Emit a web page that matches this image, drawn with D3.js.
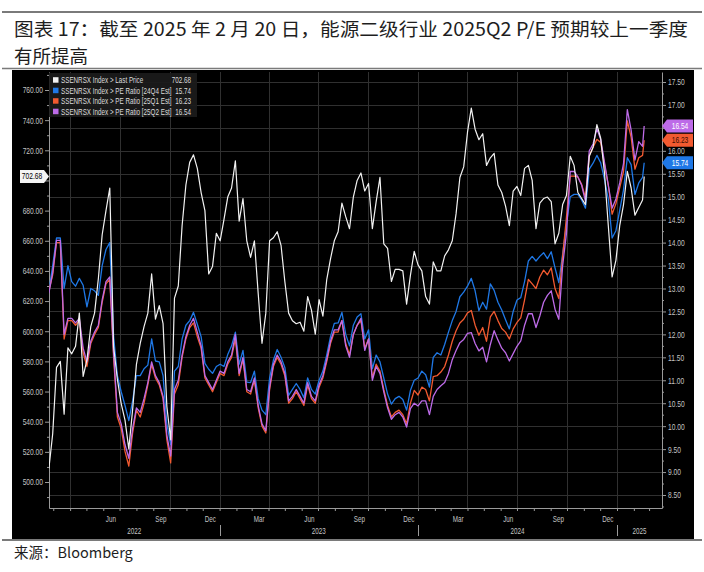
<!DOCTYPE html>
<html><head><meta charset="utf-8">
<script src="https://cdn.jsdelivr.net/npm/d3@7"></script>
<style>
html,body{margin:0;padding:0;background:#fff;}
svg{display:block;}
</style></head><body>
<svg id="chart" width="704" height="572"></svg>
<script>
// ---------------- data ----------------
const titleLines = ["图表 17：截至 2025 年 2 月 20 日，能源二级行业 2025Q2 P/E 预期较上一季度", "有所提高"];
const sourceText = "来源：Bloomberg";
const seriesNames = ["SSENRSX Index > Last Price", "SSENRSX Index > PE Ratio [24Q4 Est]", "SSENRSX Index > PE Ratio [25Q1 Est]", "SSENRSX Index > PE Ratio [25Q2 Est]"];
const lastValueLabels = ["702.68", "15.74", "16.23", "16.54"];
const seriesColors = ["#f2f2f2", "#1f78e6", "#f25a30", "#bd6be8"];
const startDate = "2022-02-21";   // weekly observations from here
const weeksCount = 157;
const lastDate = "2025-02-20";

const lastPrice = [
 509,532,576,580,545,589,585,590,612,570,
 581,603,612,635,664,680,695,590,568,552,
 541,522,548,578,592,603,612,638,608,617,
 605,550,528,622,630,670,697,712,717,708,
 692,680,638,643,665,660,674,689,695,713,
 673,688,660,649,660,625,592,612,660,662,
 666,657,633,612,607,605,606,600,623,614,
 598,621,610,634,648,660,666,685,676,668,
 689,700,705,693,698,668,686,702,658,655,
 633,641,641,640,618,637,653,644,640,623,
 618,646,640,640,650,654,660,678,702,709,
 732,748,734,727,731,710,715,718,697,692,
 683,670,693,696,690,708,710,700,668,685,
 688,689,686,658,665,684,690,716,710,692,
 688,684,716,722,737,728,705,670,636,647,
 670,684,706,695,677,682,687,702.68];

const pe24Q4 = [
 12.95,13.5,14.1,14.1,13.0,13.5,13.15,13.05,13.22,13.07,
 12.6,13.0,12.95,12.85,13.5,13.85,14.0,11.95,11.1,10.75,
 10.45,10.12,10.55,11.1,11.1,11.25,11.33,11.9,11.42,11.4,
 11.1,10.05,9.6,11.2,11.3,11.9,12.2,12.3,12.48,12.22,
 11.95,11.37,11.24,11.15,11.3,11.35,11.3,11.56,11.75,12.05,
 11.35,11.65,10.96,10.95,11.2,10.6,10.35,10.25,11.05,11.44,
 11.67,11.5,11.28,10.67,10.8,10.93,10.8,10.62,11.05,10.8,
 10.7,11.0,11.2,11.55,11.95,12.24,12.25,12.48,12.0,11.75,
 12.2,12.38,12.45,11.9,12.1,11.25,11.55,11.4,11.05,10.7,
 10.48,10.6,10.65,10.58,10.35,10.78,11.0,11.05,11.2,11.12,
 10.85,11.5,11.6,11.55,11.78,12.05,12.3,12.5,12.82,12.92,
 13.05,13.22,12.95,12.52,12.7,12.55,13.1,12.96,12.7,12.53,
 12.32,12.12,12.5,12.75,12.8,13.15,13.6,13.7,13.6,13.7,
 13.78,13.65,13.8,13.45,13.13,13.75,14.4,15.0,15.05,15.05,
 14.93,14.75,15.6,15.73,15.9,15.74,15.38,14.95,14.1,14.26,
 14.7,15.15,15.85,15.7,15.05,15.3,15.42,15.74];

const pe25Q1 = [
 12.95,13.3,14.0,14.0,11.9,12.3,12.3,12.2,12.3,11.6,
 11.3,11.8,12.0,12.15,12.7,13.1,13.2,11.5,10.2,9.95,
 9.45,9.13,9.85,10.35,10.2,10.5,10.9,11.35,11.05,10.9,
 10.6,9.7,9.2,10.7,10.9,11.5,11.9,12.15,12.25,11.95,
 11.7,11.05,10.9,10.75,10.95,11.15,11.1,11.35,11.5,11.9,
 11.1,11.45,10.75,10.7,11.0,10.4,10.0,9.85,10.8,11.3,
 11.5,11.35,11.1,10.5,10.6,10.75,10.6,10.45,10.9,10.6,
 10.5,10.85,11.05,11.4,11.8,12.05,12.05,12.3,11.8,11.55,
 12.0,12.2,12.3,11.7,11.9,11.05,11.35,11.2,10.8,10.45,
 10.2,10.3,10.35,10.25,10.05,10.5,10.78,10.68,10.85,10.8,
 10.55,11.08,11.1,11.18,11.3,11.55,11.85,12.08,12.25,12.33,
 12.47,12.52,12.2,11.98,12.15,11.85,12.38,12.5,12.3,12.13,
 12.05,11.9,12.12,12.26,12.36,12.75,13.2,13.1,13.0,13.25,
 13.4,13.3,13.45,13.0,12.78,13.7,14.55,15.45,15.45,15.43,
 15.27,14.98,15.9,16.08,16.25,16.18,15.7,15.25,14.62,14.85,
 15.2,15.55,16.65,16.3,15.6,15.85,15.9,16.23];

const pe25Q2 = [
 12.9,13.35,14.05,14.05,12.0,12.35,12.35,12.25,12.35,11.7,
 11.4,11.85,12.05,12.2,12.75,13.15,13.25,11.6,10.3,10.05,
 9.6,9.3,9.95,10.4,10.3,10.6,10.95,11.4,11.1,10.95,
 10.65,9.8,9.35,10.8,11.0,11.55,11.95,12.2,12.35,12.05,
 11.75,11.1,10.95,10.8,11.0,11.2,11.15,11.4,11.55,12.0,
 11.15,11.5,10.8,10.75,11.05,10.45,10.05,9.9,10.85,11.35,
 11.55,11.4,11.15,10.55,10.65,10.8,10.65,10.5,10.95,10.65,
 10.55,10.9,11.1,11.45,11.85,12.1,12.1,12.3,11.75,11.5,
 12.0,12.2,12.35,11.65,11.9,11.0,11.3,11.15,10.75,10.4,
 10.15,10.25,10.3,10.2,9.98,10.38,10.5,10.44,10.55,10.55,
 10.25,10.65,10.8,10.88,10.95,11.15,11.45,11.65,11.82,11.89,
 12.02,12.04,11.8,11.64,11.72,11.4,11.78,12.08,11.88,11.7,
 11.6,11.42,11.58,11.74,11.86,12.2,12.45,12.45,12.15,12.4,
 12.7,12.85,12.95,12.55,12.33,13.5,14.2,15.55,15.55,15.43,
 15.25,14.9,16.0,16.15,16.48,16.25,15.75,15.25,14.75,14.95,
 15.3,15.72,16.9,16.45,15.8,16.2,16.1,16.54];

const leftTicks = [500,520,540,560,580,600,620,640,660,680,700,720,740,760];
const leftMinorTicks = [490,510,530,550,570,590,610,630,650,670,690,710,730,750,770];
const rightTicks = [8.5,9,9.5,10,10.5,11,11.5,12,12.5,13,13.5,14,14.5,15,15.5,16,16.5,17,17.5];
const rightMinorTicks = [8.25,8.75,9.25,9.75,10.25,10.75,11.25,11.75,12.25,12.75,13.25,13.75,14.25,14.75,15.25,15.75,16.25,16.75,17.25];
const monthLabelDates = ["2022-06-15","2022-09-15","2022-12-15","2023-03-15","2023-06-15","2023-09-15","2023-12-15","2024-03-15","2024-06-15","2024-09-15","2024-12-15"];
const monthLabels = ["Jun","Sep","Dec","Mar","Jun","Sep","Dec","Mar","Jun","Sep","Dec"];
const yearLabels = ["2022","2023","2024","2025"];
const yearStarts = ["2022-01-01","2023-01-01","2024-01-01","2025-01-01","2026-01-01"];

// ---------------- drawing ----------------
const parse = d3.timeParse("%Y-%m-%d");
const W = 704, H = 572;
const plot = {left: 49, right: 662, top: 72, bottom: 508};
const axisFont = "'Liberation Sans','DejaVu Sans',sans-serif";
const cjkFont = "'Noto Sans CJK SC','Noto Sans',sans-serif";
const SQUEEZE = 0.74;

// narrow text horizontally (Bloomberg's condensed face) with a real transform
function condense(sel, factor) {
  sel.each(function () {
    const t = d3.select(this);
    const tx = +(t.attr("x") || 0), ty = +(t.attr("y") || 0);
    t.attr("x", 0).attr("y", 0).attr("transform", `translate(${tx},${ty}) scale(${factor},1)`);
  });
}

const svg = d3.select("#chart");
svg.append("rect").attr("width", W).attr("height", H).attr("fill", "#fff");

// title block
svg.append("line").attr("x1", 2).attr("x2", 702).attr("y1", 12).attr("y2", 12)
  .attr("stroke", "#7a7a7a").attr("stroke-width", 2);
svg.append("text").attr("x", 14).attr("y", 36)
  .attr("font-family", cjkFont).attr("font-size", 18.5).attr("font-weight", 400)
  .attr("fill", "#1e1e1e").attr("textLength", 674).attr("lengthAdjust", "spacingAndGlyphs")
  .text(titleLines[0]);
svg.append("text").attr("x", 14).attr("y", 63)
  .attr("font-family", cjkFont).attr("font-size", 18.5).attr("font-weight", 400)
  .attr("fill", "#1e1e1e").text(titleLines[1]);
svg.append("line").attr("x1", 2).attr("x2", 702).attr("y1", 68.5).attr("y2", 68.5)
  .attr("stroke", "#7a7a7a").attr("stroke-width", 1.5);

// black panel
svg.append("rect").attr("x", 12).attr("y", 70).attr("width", 682).attr("height", 469).attr("fill", "#000");
svg.append("line").attr("x1", 2).attr("x2", 702).attr("y1", 540).attr("y2", 540)
  .attr("stroke", "#7a7a7a").attr("stroke-width", 2);
svg.append("text").attr("x", 14).attr("y", 558)
  .attr("font-family", cjkFont).attr("font-size", 14.5).attr("fill", "#1e1e1e").text(sourceText);

// scales
const anchor = d3.scaleTime().domain([parse("2023-01-01"), parse("2025-01-01")]).range([219.6, 617]);
const x = d3.scaleTime().domain([anchor.invert(plot.left), anchor.invert(plot.right)]).range([plot.left, plot.right]);
const yLpx = (482 - 90) / 260;
const yL = d3.scaleLinear()
  .domain([760 - (plot.bottom - 90) / yLpx, 760 + (90 - plot.top) / yLpx])
  .range([plot.bottom, plot.top]);
const yRpx = (495 - 82) / 9;
const yR = d3.scaleLinear()
  .domain([17.5 - (plot.bottom - 82) / yRpx, 17.5 + (82 - plot.top) / yRpx])
  .range([plot.bottom, plot.top]);

const dates = d3.range(weeksCount).map(i => d3.timeDay.offset(parse(startDate), 7 * i)).concat([parse(lastDate)]);
const lastVals = [lastPrice[lastPrice.length - 1], pe24Q4[pe24Q4.length - 1], pe25Q1[pe25Q1.length - 1], pe25Q2[pe25Q2.length - 1]];
const rightBadgeYs = [1, 2, 3].map(k => yR(lastVals[k]));
const leftBadgeY = yL(lastVals[0]);

// grid
const grid = svg.append("g");
grid.selectAll("line.h").data(rightTicks).join("line")
  .attr("x1", plot.left).attr("x2", plot.right)
  .attr("y1", d => Math.round(yR(d)) + 0.5).attr("y2", d => Math.round(yR(d)) + 0.5)
  .attr("stroke", "#303030").attr("stroke-width", 1);
const quarterStarts = d3.timeMonth.every(3).range(x.domain()[0], x.domain()[1]);
grid.selectAll("line.v").data(quarterStarts).join("line")
  .attr("x1", d => Math.round(x(d)) + 0.5).attr("x2", d => Math.round(x(d)) + 0.5)
  .attr("y1", plot.top).attr("y2", plot.bottom)
  .attr("stroke", "#303030").attr("stroke-width", 1);

// axes
function styleAxis(g) {
  g.selectAll("path.domain").attr("stroke", "#9a9a9a").attr("stroke-width", 1);
  g.selectAll(".tick line").attr("stroke", "#9a9a9a");
  g.selectAll(".tick text").attr("fill", "#c4c4c4").attr("font-family", axisFont).attr("font-size", 9);
  condense(g.selectAll(".tick text"), SQUEEZE);
}
// labels hidden behind the last-value badges (as in the reference)
const hiddenBy = (scale, ys) => d => ys.some(b => Math.abs(scale(d) - b) < 8.5);

const gL = svg.append("g").attr("transform", `translate(${plot.left},0)`)
  .call(d3.axisLeft(yL).tickValues(leftTicks).tickFormat(d3.format(".2f")).tickSize(4).tickSizeOuter(0).tickPadding(2));
gL.selectAll(".tick").filter(hiddenBy(yL, [leftBadgeY])).select("text").remove();
styleAxis(gL);
svg.append("g").attr("transform", `translate(${plot.left},0)`)
  .call(d3.axisLeft(yL).tickValues(leftMinorTicks).tickFormat("").tickSize(2).tickSizeOuter(0))
  .call(g => { g.select("path.domain").remove(); g.selectAll(".tick line").attr("stroke", "#9a9a9a"); });

const gR = svg.append("g").attr("transform", `translate(${plot.right},0)`)
  .call(d3.axisRight(yR).tickValues(rightTicks).tickFormat(d3.format(".2f")).tickSize(4).tickSizeOuter(0).tickPadding(2));
gR.selectAll(".tick").filter(hiddenBy(yR, rightBadgeYs)).select("text").remove();
styleAxis(gR);
svg.append("g").attr("transform", `translate(${plot.right},0)`)
  .call(d3.axisRight(yR).tickValues(rightMinorTicks).tickFormat("").tickSize(2).tickSizeOuter(0))
  .call(g => { g.select("path.domain").remove(); g.selectAll(".tick line").attr("stroke", "#9a9a9a"); });

const monthTicks = d3.timeMonth.range(x.domain()[0], x.domain()[1]);
const gB = svg.append("g").attr("transform", `translate(0,${plot.bottom})`)
  .call(d3.axisBottom(x).tickValues(monthTicks).tickFormat("").tickSize(3).tickSizeOuter(0));
styleAxis(gB);

const mLab = svg.append("g").selectAll("text").data(monthLabelDates).join("text")
  .attr("x", d => x(parse(d))).attr("y", 522).attr("text-anchor", "middle")
  .attr("fill", "#c4c4c4").attr("font-family", axisFont).attr("font-size", 8.5)
  .text((d, i) => monthLabels[i]);
condense(mLab, SQUEEZE);
const yearG = svg.append("g");
yearLabels.forEach((lab, i) => {
  const a = Math.max(x(parse(yearStarts[i])), plot.left);
  const b = Math.min(x(parse(yearStarts[i + 1])), plot.right);
  yearG.append("text").attr("x", (a + b) / 2).attr("y", 534).attr("text-anchor", "middle")
    .attr("fill", "#c4c4c4").attr("font-family", axisFont).attr("font-size", 8.5).text(lab);
});
condense(yearG.selectAll("text"), SQUEEZE);
yearG.selectAll("line").data(yearStarts.slice(1, 4)).join("line")
  .attr("x1", d => Math.round(x(parse(d))) + 0.5).attr("x2", d => Math.round(x(parse(d))) + 0.5)
  .attr("y1", 525).attr("y2", 536).attr("stroke", "#9a9a9a");

// lines
svg.append("clipPath").attr("id", "clip").append("rect")
  .attr("x", plot.left).attr("y", plot.top).attr("width", plot.right - plot.left).attr("height", plot.bottom - plot.top);
const lines = svg.append("g").attr("clip-path", "url(#clip)");
const lineR = d3.line().x((d, i) => x(dates[i])).y(d => yR(d));
const lineL = d3.line().x((d, i) => x(dates[i])).y(d => yL(d));
[[pe24Q4, 1], [pe25Q1, 2], [pe25Q2, 3]].forEach(([arr, k]) => {
  lines.append("path").datum(arr).attr("d", lineR).attr("fill", "none")
    .attr("stroke", seriesColors[k]).attr("stroke-width", 1.3).attr("stroke-linejoin", "round");
});
lines.append("path").datum(lastPrice).attr("d", lineL).attr("fill", "none")
  .attr("stroke", seriesColors[0]).attr("stroke-width", 1.2).attr("stroke-linejoin", "round");

// legend
const leg = svg.append("g");
leg.append("rect").attr("x", 49).attr("y", 73).attr("width", 148).attr("height", 44)
  .attr("fill", "#1b1b1b").attr("opacity", 0.92);
seriesNames.forEach((name, i) => {
  const cy = 80 + i * 10.5;
  leg.append("rect").attr("x", 53).attr("y", cy - 2.8).attr("width", 5.5).attr("height", 5.5).attr("fill", seriesColors[i]);
  const t1 = leg.append("text").attr("x", 61).attr("y", cy + 3).attr("fill", "#dcdcdc")
    .attr("font-family", axisFont).attr("font-size", 8.5).text(name);
  condense(t1, SQUEEZE);
  const t2 = leg.append("text").attr("x", 191).attr("y", cy + 3).attr("text-anchor", "end").attr("fill", "#dcdcdc")
    .attr("font-family", axisFont).attr("font-size", 8.5).text(lastValueLabels[i]);
  condense(t2, SQUEEZE);
});

// value badges
const badgeText = ["#000", "#fff", "#3a0d00", "#fff"];
[1, 2, 3].forEach(k => {
  const yy = yR(lastVals[k]);
  svg.append("path")
    .attr("d", `M${plot.right},${yy} L${plot.right + 5},${yy - 6.5} H${plot.right + 31} V${yy + 6.5} H${plot.right + 5} Z`)
    .attr("fill", seriesColors[k]);
  const t = svg.append("text").attr("x", plot.right + 18).attr("y", yy + 3).attr("text-anchor", "middle")
    .attr("fill", badgeText[k]).attr("font-family", axisFont).attr("font-size", 9).text(lastValueLabels[k]);
  condense(t, SQUEEZE);
});
{
  const yy = leftBadgeY;
  svg.append("path")
    .attr("d", `M${plot.left},${yy} L${plot.left - 5},${yy - 6.5} H${plot.left - 29} V${yy + 6.5} H${plot.left - 5} Z`)
    .attr("fill", "#f4f4f4");
  const t = svg.append("text").attr("x", plot.left - 17).attr("y", yy + 3).attr("text-anchor", "middle")
    .attr("fill", "#000").attr("font-family", axisFont).attr("font-size", 9).text(lastValueLabels[0]);
  condense(t, SQUEEZE);
}
</script>
</body></html>
